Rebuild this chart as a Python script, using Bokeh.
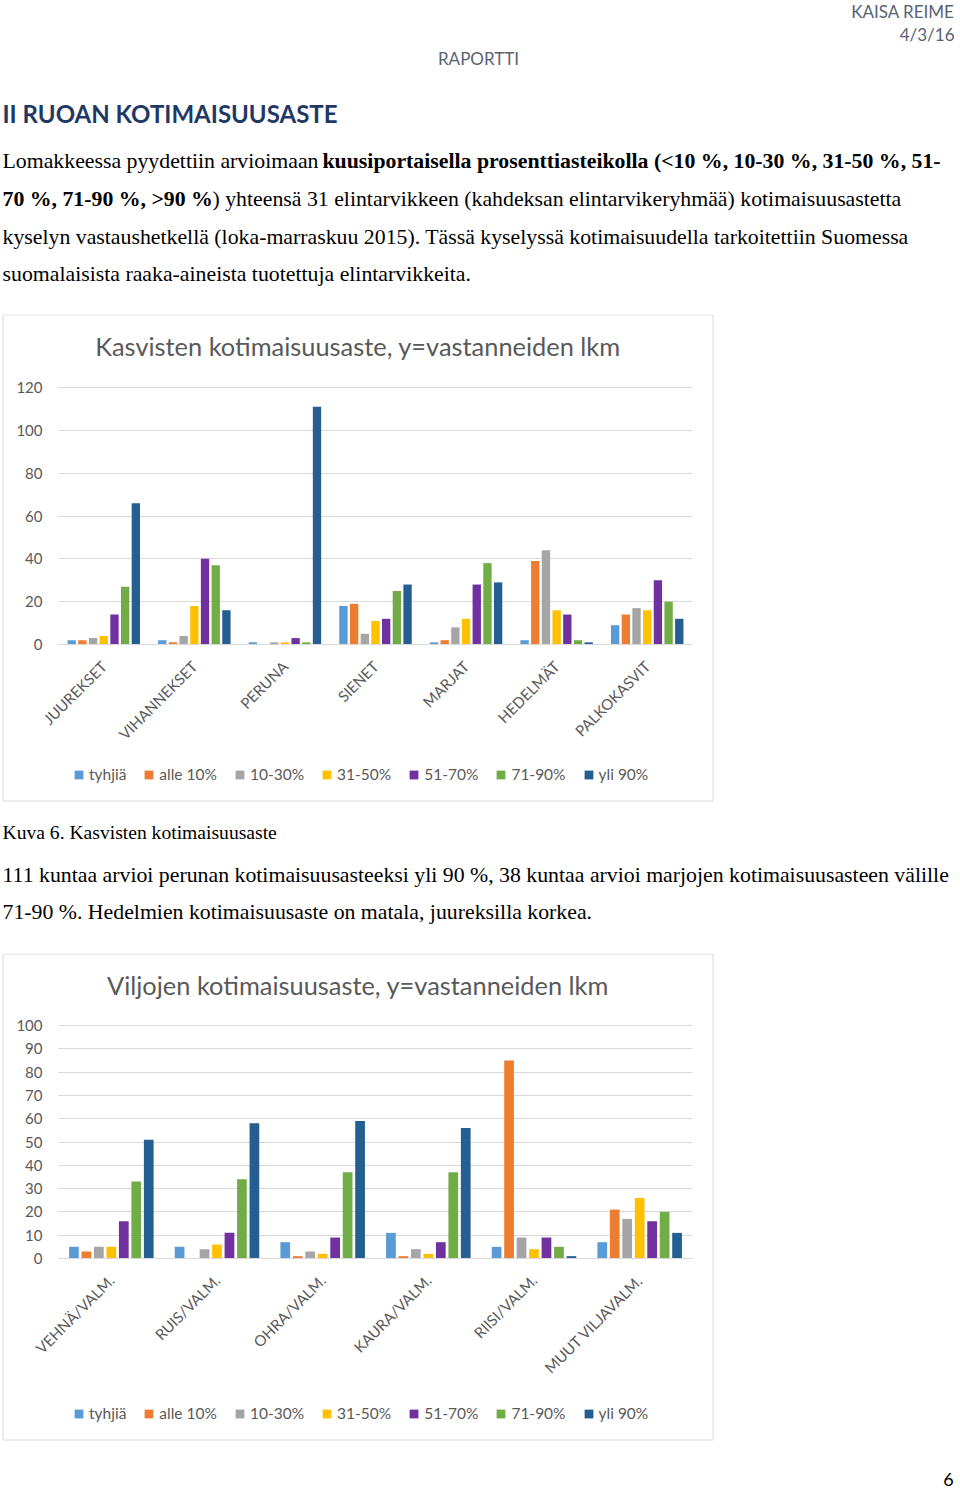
from bokeh.plotting import figure
from bokeh.models import Range1d, FactorRange, Legend, LegendItem, ColumnDataSource
from bokeh.layouts import column
from bokeh.transform import dodge
from bokeh.core.properties import value
from bokeh.embed import file_html
from bokeh.resources import INLINE
import math

# ---------------- data ----------------
series_labels = ["tyhjiä", "alle 10%", "10-30%", "31-50%", "51-70%", "71-90%", "yli 90%"]
series_colors = ["#5B9BD5", "#ED7D31", "#A5A5A5", "#FFC000", "#7030A0", "#70AD47", "#255E91"]

veg_categories = ["JUUREKSET", "VIHANNEKSET", "PERUNA", "SIENET", "MARJAT", "HEDELMÄT", "PALKOKASVIT"]
veg_tyhjia = [2, 2, 1, 18, 1, 2, 9]
veg_alle10 = [2, 1, 0, 19, 2, 39, 14]
veg_10_30 = [3, 4, 1, 5, 8, 44, 17]
veg_31_50 = [4, 18, 1, 11, 12, 16, 16]
veg_51_70 = [14, 40, 3, 12, 28, 14, 30]
veg_71_90 = [27, 37, 1, 25, 38, 2, 20]
veg_yli90 = [66, 16, 111, 28, 29, 1, 12]
veg_ticks = [0, 20, 40, 60, 80, 100, 120]

grain_categories = ["VEHNÄ/VALM.", "RUIS/VALM.", "OHRA/VALM.", "KAURA/VALM.", "RIISI/VALM.", "MUUT VILJAVALM."]
grain_tyhjia = [5, 5, 7, 11, 5, 7]
grain_alle10 = [3, 0, 1, 1, 85, 21]
grain_10_30 = [5, 4, 3, 4, 9, 17]
grain_31_50 = [5, 6, 2, 2, 4, 26]
grain_51_70 = [16, 11, 9, 7, 9, 16]
grain_71_90 = [33, 34, 37, 37, 5, 20]
grain_yli90 = [51, 58, 59, 56, 1, 11]
grain_ticks = [0, 10, 20, 30, 40, 50, 60, 70, 80, 90, 100]

GRAY = "#595959"
CAL = "Lato"
SERIF = "Liberation Serif"
PAGE_W = 960


def bare(width, height, x_range, y_range):
    f = figure(width=width, height=height, x_range=x_range, y_range=y_range,
               toolbar_location=None, output_backend="svg",
               min_border_left=0, min_border_right=0, min_border_top=0, min_border_bottom=0,
               outline_line_color=None)
    f.title.visible = False
    return f


def text_fig(y0, y1):
    f = bare(PAGE_W, int(y1 - y0), Range1d(0, PAGE_W), Range1d(y1, y0))
    f.axis.visible = False
    f.grid.visible = False
    return f


def put(f, x, y, s, size, font, color="black", align="left", style="normal"):
    f.text(x=[x], y=[y], text=[s], text_font=value(font), text_font_size=size,
           text_color=color, text_align=align, text_baseline="middle", text_font_style=style)


# ---------------- header ----------------
head = text_fig(0, 314)
put(head, 954, 11, "KAISA REIME", "17px", CAL, "#596273", "right")
put(head, 954, 34, "4/3/16", "17px", CAL, "#596273", "right")
put(head, 478, 58, "RAPORTTI", "17px", CAL, "#596273", "center")
put(head, 2, 113, "II RUOAN KOTIMAISUUSASTE", "24px", CAL, "#1F3864", "left", "bold")
fs = "21.8px"
put(head, 2, 160, "Lomakkeessa pyydettiin arvioimaan", fs, SERIF)
put(head, 322, 160, "kuusiportaisella prosenttiasteikolla (<10 %, 10-30 %, 31-50 %, 51-", fs, SERIF, style="bold")
put(head, 2, 198, "70 %, 71-90 %, >90 %", fs, SERIF, style="bold")
put(head, 212, 198, ") yhteensä 31 elintarvikkeen (kahdeksan elintarvikeryhmää) kotimaisuusastetta", fs, SERIF)
put(head, 2, 236, "kyselyn vastaushetkellä (loka-marraskuu 2015). Tässä kyselyssä kotimaisuudella tarkoitettiin Suomessa", fs, SERIF)
put(head, 2, 273, "suomalaisista raaka-aineista tuotettuja elintarvikkeita.", fs, SERIF)


# ---------------- charts ----------------
# plot area 58..692 on the page; the chart canvas (0..750) is symmetric round it
PLOT_L, PLOT_R = 58, 692
CH_W = PLOT_L + PLOT_R


def chart(title, cats, values, ticks, ymax, top_px, bottom_px, y0_px, ymax_px, title_px):
    n = len(cats)
    ppx = (PLOT_R - PLOT_L) / n                # pixels per category
    ppy = (y0_px - ymax_px) / ymax             # pixels per unit
    pad = (CH_W / ppx - n) / 2
    X = lambda px: (px - PLOT_L) / ppx
    Y = lambda py: (y0_px - py) / ppy
    xr = FactorRange(*cats, range_padding=pad, range_padding_units="absolute")
    yr = Range1d(Y(bottom_px), Y(top_px))
    p = bare(CH_W, int(bottom_px - top_px), xr, yr)

    # chart box
    p.quad(left=[X(2.5)], right=[X(712.5)], top=[Y(top_px + 0.5)], bottom=[Y(bottom_px - 1.5)],
           fill_color=None, line_color="#d9d9d9", line_width=1, level="underlay")

    src = {"cat": cats}
    for i, v in enumerate(values):
        src["s%d" % i] = v
    source = ColumnDataSource(src)
    items = []
    for i, lab in enumerate(series_labels):
        r = p.vbar(x=dodge("cat", (i - 3) * 0.118, range=xr), top="s%d" % i, width=0.092,
                   source=source, fill_color=series_colors[i], line_color=None)
        items.append(LegendItem(label=lab, renderers=[r]))

    p.text(x=[X(357.5)], y=[Y(title_px)], text=[title], text_font=value(CAL),
           text_font_size="25.4px", text_color=GRAY, text_align="center", text_baseline="middle")

    p.grid.visible = False
    ya = p.yaxis[0]
    ya.fixed_location = 0
    ya.ticker = ticks
    ya.bounds = (0, ymax)
    ya.axis_line_color = None
    ya.major_tick_line_color = "#d9d9d9"
    ya.major_tick_out = 0
    ya.major_tick_in = PLOT_R - PLOT_L
    ya.minor_tick_line_color = None
    ya.major_label_standoff = 16
    ya.major_label_text_font = CAL
    ya.major_label_text_font_size = "15px"
    ya.major_label_text_color = GRAY
    ya.level = "underlay"

    xa = p.xaxis[0]
    xa.fixed_location = 0
    xa.bounds = (0, n)
    xa.axis_line_color = "#d9d9d9"
    xa.major_tick_line_color = None
    xa.major_tick_out = 0
    xa.major_tick_in = 0
    xa.minor_tick_line_color = None
    xa.major_label_orientation = math.pi / 4
    xa.major_label_standoff = 19
    xa.major_label_text_font = CAL
    xa.major_label_text_font_size = "15px"
    xa.major_label_text_color = GRAY

    lg = Legend(items=items, location=(73, 19), orientation="horizontal", padding=0,
                margin=0, spacing=17, glyph_width=11, glyph_height=11,
                label_standoff=5, border_line_color=None, background_fill_alpha=0,
                label_text_font=CAL, label_text_font_size="15.5px", label_text_color=GRAY)
    p.add_layout(lg)
    return p


veg_values = [veg_tyhjia, veg_alle10, veg_10_30, veg_31_50, veg_51_70, veg_71_90, veg_yli90]
grain_values = [grain_tyhjia, grain_alle10, grain_10_30, grain_31_50, grain_51_70, grain_71_90, grain_yli90]

c1 = chart("Kasvisten kotimaisuusaste, y=vastanneiden lkm", veg_categories, veg_values,
           veg_ticks, 120, 314, 802, 644, 387, 345)
c2 = chart("Viljojen kotimaisuusaste, y=vastanneiden lkm", grain_categories, grain_values,
           grain_ticks, 100, 953, 1441, 1258, 1025, 984)

# ---------------- middle text ----------------
mid = text_fig(802, 953)
put(mid, 2, 832, "Kuva 6. Kasvisten kotimaisuusaste", "19.6px", SERIF)
put(mid, 2, 874, "111 kuntaa arvioi perunan kotimaisuusasteeksi yli 90 %, 38 kuntaa arvioi marjojen kotimaisuusasteen välille", fs, SERIF)
put(mid, 2, 911, "71-90 %. Hedelmien kotimaisuusaste on matala, juureksilla korkea.", fs, SERIF)

# ---------------- footer ----------------
foot = text_fig(1441, 1490)
put(foot, 948, 1479, "6", "18px", CAL, "black", "center")

page = column(head, c1, mid, c2, foot, spacing=0)

open("out.html", "w").write(file_html(page, INLINE))
